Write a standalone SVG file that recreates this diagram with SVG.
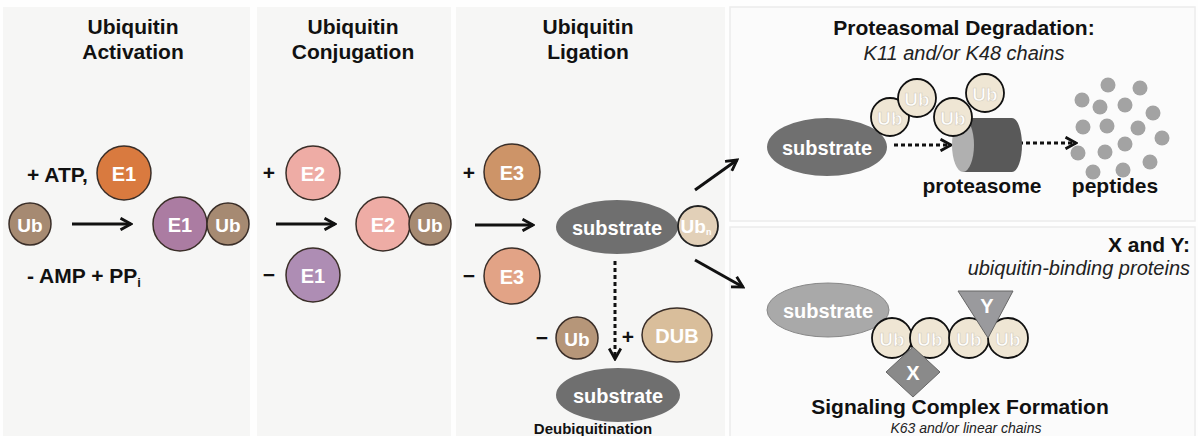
<svg xmlns="http://www.w3.org/2000/svg" width="1198" height="436" viewBox="0 0 1198 436">
<style>
.bg{fill:#f6f6f5}
.bg2{fill:#fbfbfb;stroke:#ececec;stroke-width:1.5}
.t{font-family:"Liberation Sans",Arial,sans-serif;font-weight:bold;fill:#111;text-anchor:middle}
.it{font-family:"Liberation Sans",Arial,sans-serif;font-style:italic;fill:#222}
.w{font-family:"Liberation Sans",Arial,sans-serif;font-weight:bold;fill:#fff;text-anchor:middle;dominant-baseline:central}
.c{stroke:#3a2e28;stroke-width:1.5}
.cu{fill:#efe6d4;stroke:#111;stroke-width:1.8}
.ut{font-family:"Liberation Sans",Arial,sans-serif;font-weight:bold;fill:#fff;stroke:#d6cfc0;stroke-width:0.7;text-anchor:middle;dominant-baseline:central;font-size:19px}
.ar{stroke:#111;stroke-width:3;fill:none}
.dt{stroke:#111;stroke-width:3;fill:none;stroke-dasharray:4 3}
.pep{fill:#a3a3a3}
</style>
<defs>
<marker id="ah" viewBox="0 0 12 12" refX="10" refY="6" markerWidth="14" markerHeight="14" markerUnits="userSpaceOnUse" orient="auto">
<path d="M1,1 L10,6 L1,11" fill="none" stroke="#111" stroke-width="2.4"/>
</marker>
</defs>
<rect width="1198" height="436" fill="#fefefe"/>
<rect class="bg" x="3" y="7" width="247" height="429"/>
<rect class="bg" x="257" y="7" width="194" height="429"/>
<rect class="bg" x="456" y="7" width="269" height="429"/>
<rect class="bg2" x="730" y="7" width="465" height="214"/>
<rect class="bg2" x="730" y="227" width="465" height="212"/>

<g id="titles">
<text class="t" x="133" y="34" font-size="21">Ubiquitin</text>
<text class="t" x="133" y="59" font-size="21">Activation</text>
<text class="t" x="353" y="34" font-size="21">Ubiquitin</text>
<text class="t" x="353" y="59" font-size="21">Conjugation</text>
<text class="t" x="588" y="34" font-size="21">Ubiquitin</text>
<text class="t" x="588" y="59" font-size="21">Ligation</text>
<text class="t" x="964" y="35" font-size="21">Proteasomal Degradation:</text>
<text class="it" x="964" y="60" font-size="20" text-anchor="middle">K11 and/or K48 chains</text>
<text class="t" x="1190" y="252" font-size="21" style="text-anchor:end">X and Y:</text>
<text class="it" x="1190" y="275" font-size="20" text-anchor="end">ubiquitin-binding proteins</text>
<text class="t" x="960" y="414" font-size="21">Signaling Complex Formation</text>
<text class="it" x="966" y="433" font-size="14" text-anchor="middle">K63 and/or linear chains</text>
<text class="t" x="593" y="434" font-size="15">Deubiquitination</text>
</g>

<g id="connectors">
<line class="ar" x1="72" y1="224" x2="131" y2="224" marker-end="url(#ah)"/>
<line class="ar" x1="276" y1="224" x2="335" y2="224" marker-end="url(#ah)"/>
<line class="ar" x1="475" y1="225" x2="533" y2="225" marker-end="url(#ah)"/>
<line class="dt" x1="615" y1="261" x2="615" y2="359" marker-end="url(#ah)"/>
<line class="ar" x1="695" y1="190" x2="737" y2="160" marker-end="url(#ah)"/>
<line class="ar" x1="695" y1="260" x2="743" y2="287" marker-end="url(#ah)"/>
<line class="dt" x1="894" y1="145" x2="951" y2="145" marker-end="url(#ah)"/>
<line class="dt" x1="1019" y1="143" x2="1076" y2="143" marker-end="url(#ah)"/>
</g>

<g id="activation">
<text class="t" x="27" y="182" font-size="21" style="text-anchor:start">+ ATP,</text>
<circle class="c" cx="124" cy="173" r="27" fill="#d97a3f"/>
<text class="w" x="124" y="174" font-size="20">E1</text>
<circle class="c" cx="30" cy="224" r="21" fill="#a68a72"/>
<text class="w" x="30" y="225" font-size="19">Ub</text>
<circle class="c" cx="180" cy="224" r="27" fill="#ab7ca2"/>
<text class="w" x="180" y="225" font-size="20">E1</text>
<circle class="c" cx="228" cy="224" r="21" fill="#a68a72"/>
<text class="w" x="228" y="225" font-size="19">Ub</text>
<text class="t" x="27" y="283" font-size="21" style="text-anchor:start">- AMP + PP<tspan font-size="13" dy="4">i</tspan></text>
</g>

<g id="conjugation">
<text class="t" x="269" y="180" font-size="21">+</text>
<circle class="c" cx="313" cy="173" r="27" fill="#eeaca5"/>
<text class="w" x="313" y="174" font-size="20">E2</text>
<circle class="c" cx="383" cy="224" r="27" fill="#eeaca5"/>
<text class="w" x="383" y="225" font-size="20">E2</text>
<circle class="c" cx="430" cy="224" r="21" fill="#a68a72"/>
<text class="w" x="430" y="225" font-size="19">Ub</text>
<text class="t" x="269" y="282" font-size="21">−</text>
<circle class="c" cx="313" cy="275" r="27" fill="#ae8db4"/>
<text class="w" x="313" y="276" font-size="20">E1</text>
</g>

<g id="ligation">
<text class="t" x="469" y="180" font-size="21">+</text>
<circle class="c" cx="512" cy="172" r="28" fill="#cd9468"/>
<text class="w" x="512" y="173" font-size="20">E3</text>
<text class="t" x="469" y="283" font-size="21">−</text>
<circle class="c" cx="512" cy="276" r="28" fill="#e2a386"/>
<text class="w" x="512" y="277" font-size="20">E3</text>
<ellipse cx="617" cy="227" rx="61" ry="27" fill="#6f6f6f"/>
<text class="w" x="617" y="228" font-size="20">substrate</text>
<circle cx="698" cy="226" r="20" fill="#e2d0b8" stroke="#222" stroke-width="1.8"/>
<text class="w" x="696" y="226" font-size="19">Ub<tspan font-size="9" dy="6">n</tspan></text>
</g>

<g id="deubiquitination">
<text class="t" x="542" y="345" font-size="21">−</text>
<circle class="c" cx="577" cy="338" r="21" fill="#b69679"/>
<text class="w" x="577" y="339" font-size="19">Ub</text>
<text class="t" x="628" y="344" font-size="21">+</text>
<ellipse class="c" cx="677" cy="335" rx="35" ry="27" fill="#d9be9b"/>
<text class="w" x="677" y="336" font-size="20">DUB</text>
<ellipse cx="618" cy="395" rx="62" ry="27" fill="#6f6f6f"/>
<text class="w" x="618" y="396" font-size="20">substrate</text>
</g>

<g id="proteasomal">
<ellipse cx="827" cy="147" rx="60" ry="29" fill="#707070"/>
<text class="w" x="827" y="148" font-size="20">substrate</text>
<path d="M963,118 L1012,118 A10,27 0 0 1 1012,172 L963,172 Z" fill="#595959"/>
<ellipse cx="963" cy="145" rx="11" ry="27" fill="#b0b0b0"/>
<circle class="cu" cx="890" cy="117" r="19"/>
<text class="ut" x="890" y="118">Ub</text>
<circle class="cu" cx="917" cy="98" r="19"/>
<text class="ut" x="917" y="99">Ub</text>
<circle class="cu" cx="953" cy="117" r="19"/>
<text class="ut" x="953" y="118">Ub</text>
<circle class="cu" cx="985" cy="93" r="19"/>
<text class="ut" x="985" y="94">Ub</text>
<text class="t" x="982" y="193" font-size="21">proteasome</text>
<circle class="pep" cx="1108" cy="85" r="7.5"/>
<circle class="pep" cx="1140" cy="88" r="7.5"/>
<circle class="pep" cx="1082" cy="100" r="7.5"/>
<circle class="pep" cx="1100" cy="107" r="7.5"/>
<circle class="pep" cx="1125" cy="105" r="7.5"/>
<circle class="pep" cx="1153" cy="113" r="7.5"/>
<circle class="pep" cx="1083" cy="127" r="7.5"/>
<circle class="pep" cx="1107" cy="126" r="7.5"/>
<circle class="pep" cx="1138" cy="128" r="7.5"/>
<circle class="pep" cx="1162" cy="138" r="7.5"/>
<circle class="pep" cx="1078" cy="153" r="7.5"/>
<circle class="pep" cx="1125" cy="144" r="7.5"/>
<circle class="pep" cx="1105" cy="152" r="7.5"/>
<circle class="pep" cx="1150" cy="162" r="7.5"/>
<circle class="pep" cx="1093" cy="172" r="7.5"/>
<circle class="pep" cx="1123" cy="170" r="7.5"/>
<text class="t" x="1115" y="193" font-size="21">peptides</text>
</g>

<g id="signaling">
<ellipse cx="828" cy="310" rx="61" ry="27" fill="#a9a9a9" stroke="#888" stroke-width="1"/>
<text class="w" x="828" y="311" font-size="20">substrate</text>
<circle class="cu" cx="892" cy="338" r="20"/>
<text class="ut" x="892" y="339">Ub</text>
<circle class="cu" cx="930" cy="338" r="20"/>
<text class="ut" x="930" y="339">Ub</text>
<circle class="cu" cx="969" cy="338" r="20"/>
<text class="ut" x="969" y="339">Ub</text>
<circle class="cu" cx="1008" cy="338" r="20"/>
<text class="ut" x="1008" y="339">Ub</text>
<path d="M958,291 L1013,291 L988,338 Z" fill="#9a9a9d" stroke="#666" stroke-width="1"/>
<text class="w" x="987" y="306" font-size="20">Y</text>
<path d="M913,347 L940,372 L913,397 L886,372 Z" fill="#8a8a8a" stroke="#666" stroke-width="1"/>
<text class="w" x="913" y="373" font-size="20">X</text>
</g>
</svg>
